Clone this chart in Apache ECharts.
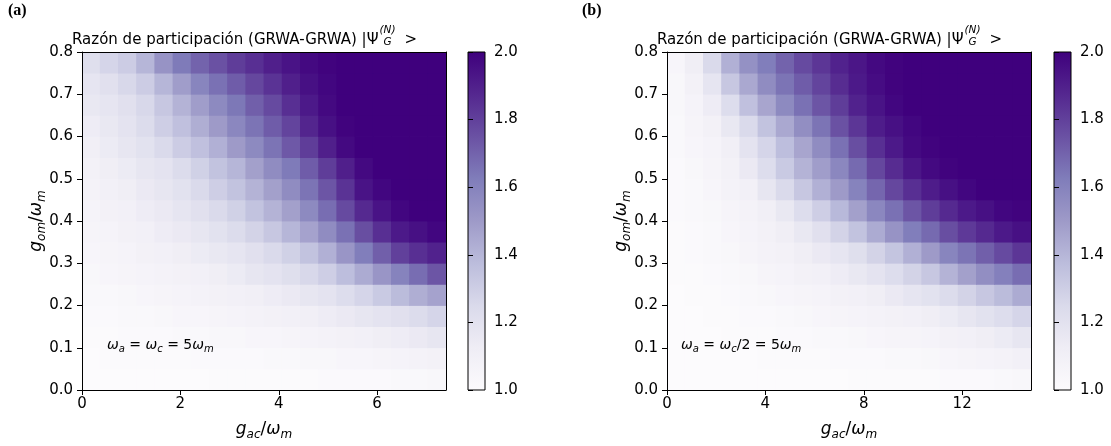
<!DOCTYPE html>
<html>
<head>
<meta charset="utf-8">
<script src="https://cdn.jsdelivr.net/npm/echarts@6/dist/echarts.min.js"></script>
<style>
html,body{margin:0;padding:0;background:#fff;}
#c{width:1111px;height:446px;}
</style>
</head>
<body>
<div id="c"></div>
<script>
// ---------------- data ----------------
const titleText = 'Razón de participación (GRWA-GRWA) |Ψ';
const xMaxA = 7.4;
const xMaxB = 14.8;
const yMax = 0.8;
const xTicksA = [0, 2, 4, 6];
const xTicksB = [0, 4, 8, 12];
const yTicks = [0, 0.1, 0.2, 0.3, 0.4, 0.5, 0.6, 0.7, 0.8];
const cbarTicks = [1.0, 1.2, 1.4, 1.6, 1.8, 2.0];
const cbarMin = 1.0, cbarMax = 2.0;
const purples = ['#fcfbfd','#efedf5','#dadaeb','#bcbddc','#9e9ac8','#807dba','#6a51a3','#54278f','#3f007d'];

// panel (a): rows from bottom (g_om ~ 0.025) to top (~0.775), 20 columns over g_ac in [0, 7.4]
const rowsA = [
  [1.00,1.00,1.00,1.00,1.00,1.00,1.00,1.01,1.01,1.01,1.01,1.01,1.01,1.02,1.02,1.02,1.02,1.03,1.03,1.04],
  [1.00,1.01,1.01,1.01,1.01,1.01,1.02,1.02,1.02,1.02,1.03,1.03,1.04,1.04,1.05,1.05,1.06,1.07,1.08,1.09],
  [1.01,1.01,1.02,1.02,1.02,1.03,1.03,1.04,1.04,1.05,1.05,1.06,1.07,1.08,1.09,1.10,1.12,1.13,1.15,1.17],
  [1.02,1.02,1.03,1.03,1.04,1.05,1.05,1.06,1.07,1.08,1.09,1.10,1.11,1.13,1.15,1.17,1.19,1.21,1.24,1.27],
  [1.03,1.03,1.04,1.05,1.06,1.07,1.08,1.09,1.10,1.11,1.13,1.15,1.17,1.19,1.23,1.27,1.32,1.38,1.43,1.47],
  [1.04,1.05,1.06,1.07,1.08,1.09,1.10,1.12,1.14,1.17,1.19,1.22,1.26,1.30,1.37,1.44,1.52,1.60,1.67,1.74],
  [1.05,1.06,1.07,1.09,1.10,1.12,1.14,1.16,1.18,1.21,1.25,1.29,1.35,1.42,1.52,1.62,1.71,1.80,1.85,1.89],
  [1.06,1.07,1.09,1.10,1.13,1.15,1.17,1.20,1.24,1.28,1.33,1.40,1.47,1.56,1.66,1.76,1.85,1.92,1.95,1.98],
  [1.07,1.09,1.10,1.13,1.15,1.18,1.21,1.25,1.29,1.35,1.41,1.48,1.57,1.67,1.77,1.87,1.94,1.98,2.00,2.00],
  [1.08,1.10,1.12,1.15,1.17,1.20,1.25,1.30,1.35,1.41,1.48,1.56,1.65,1.74,1.84,1.94,1.98,2.00,2.00,2.00],
  [1.09,1.12,1.14,1.17,1.19,1.24,1.29,1.35,1.40,1.48,1.56,1.63,1.72,1.81,1.90,1.97,2.00,2.00,2.00,2.00],
  [1.11,1.14,1.17,1.20,1.25,1.31,1.36,1.42,1.50,1.57,1.65,1.73,1.81,1.90,1.97,2.00,2.00,2.00,2.00,2.00],
  [1.13,1.16,1.19,1.24,1.30,1.36,1.43,1.50,1.58,1.65,1.72,1.79,1.88,1.95,1.99,2.00,2.00,2.00,2.00,2.00],
  [1.16,1.18,1.21,1.26,1.33,1.41,1.49,1.57,1.64,1.71,1.77,1.85,1.92,1.97,2.00,2.00,2.00,2.00,2.00,2.00],
  [1.18,1.21,1.26,1.31,1.40,1.49,1.59,1.66,1.72,1.78,1.84,1.90,1.95,1.98,2.00,2.00,2.00,2.00,2.00,2.00],
  [1.22,1.27,1.31,1.40,1.53,1.63,1.70,1.75,1.81,1.85,1.90,1.94,1.97,1.99,2.00,2.00,2.00,2.00,2.00,2.00]
];

// panel (b): rows from bottom to top, 20 columns over g_ac in [0, 14.8]
const rowsB = [
  [1.00,1.00,1.00,1.00,1.00,1.00,1.00,1.00,1.00,1.00,1.01,1.01,1.01,1.01,1.01,1.02,1.02,1.02,1.03,1.04],
  [1.00,1.00,1.00,1.00,1.00,1.01,1.01,1.01,1.01,1.02,1.02,1.02,1.03,1.03,1.04,1.05,1.06,1.07,1.08,1.10],
  [1.00,1.00,1.00,1.01,1.01,1.01,1.02,1.02,1.03,1.03,1.04,1.05,1.06,1.06,1.07,1.09,1.10,1.12,1.14,1.17],
  [1.00,1.00,1.01,1.01,1.02,1.02,1.03,1.04,1.05,1.06,1.07,1.08,1.09,1.10,1.12,1.14,1.17,1.20,1.23,1.27],
  [1.00,1.01,1.01,1.02,1.03,1.04,1.05,1.06,1.07,1.09,1.10,1.12,1.15,1.18,1.20,1.24,1.28,1.33,1.38,1.44],
  [1.01,1.01,1.02,1.03,1.04,1.06,1.07,1.09,1.10,1.13,1.16,1.19,1.23,1.28,1.33,1.41,1.48,1.55,1.61,1.67],
  [1.01,1.02,1.03,1.04,1.06,1.08,1.09,1.12,1.15,1.18,1.22,1.28,1.34,1.42,1.50,1.59,1.65,1.71,1.77,1.83],
  [1.01,1.02,1.03,1.05,1.07,1.09,1.12,1.16,1.21,1.28,1.35,1.44,1.53,1.62,1.68,1.76,1.82,1.87,1.92,1.95],
  [1.02,1.03,1.04,1.06,1.08,1.11,1.16,1.23,1.30,1.39,1.48,1.58,1.66,1.74,1.81,1.87,1.92,1.95,1.98,1.99],
  [1.02,1.03,1.05,1.08,1.10,1.17,1.25,1.33,1.42,1.50,1.60,1.69,1.78,1.85,1.91,1.95,1.98,2.00,2.00,2.00],
  [1.02,1.04,1.06,1.09,1.15,1.23,1.32,1.41,1.49,1.58,1.68,1.78,1.86,1.93,1.97,1.99,2.00,2.00,2.00,2.00],
  [1.03,1.05,1.07,1.11,1.19,1.27,1.37,1.46,1.56,1.66,1.76,1.85,1.92,1.97,1.99,2.00,2.00,2.00,2.00,2.00],
  [1.03,1.06,1.09,1.16,1.25,1.35,1.45,1.55,1.65,1.75,1.83,1.91,1.95,1.98,2.00,2.00,2.00,2.00,2.00,2.00],
  [1.04,1.07,1.13,1.23,1.36,1.46,1.57,1.66,1.74,1.81,1.89,1.94,1.98,2.00,2.00,2.00,2.00,2.00,2.00,2.00],
  [1.04,1.09,1.18,1.33,1.45,1.56,1.65,1.72,1.79,1.86,1.92,1.96,1.99,2.00,2.00,2.00,2.00,2.00,2.00,2.00],
  [1.05,1.12,1.25,1.42,1.54,1.62,1.70,1.77,1.83,1.89,1.93,1.97,1.99,2.00,2.00,2.00,2.00,2.00,2.00,2.00]
];

// ---------------- build ----------------
function cells(rows, xMax) {
  const nr = rows.length, nc = rows[0].length;
  const dx = xMax / nc, dy = yMax / nr;
  const out = [];
  rows.forEach((row, j) => row.forEach((v, i) => out.push([(i + 0.5) * dx, (j + 0.5) * dy, v])));
  return { data: out, dx: dx, dy: dy };
}
const cA = cells(rowsA, xMaxA);
const cB = cells(rowsB, xMaxB);

function cellRenderer(dx, dy) {
  return function (params, api) {
    const x = api.value(0), y = api.value(1);
    const p0 = api.coord([x - dx / 2, y - dy / 2]);
    const p1 = api.coord([x + dx / 2, y + dy / 2]);
    return {
      type: 'rect',
      shape: { x: p0[0] - 0.4, y: p1[1] - 0.4, width: p1[0] - p0[0] + 0.8, height: p0[1] - p1[1] + 0.8 },
      style: { fill: api.visual('color') }
    };
  };
}

function cbarRenderer(params, api) {
  const p0 = api.coord([0, cbarMin]);
  const p1 = api.coord([1, cbarMax]);
  const stops = purples.map((c, k) => ({ offset: k / (purples.length - 1), color: c }));
  return {
    type: 'rect',
    shape: { x: p0[0], y: p1[1], width: p1[0] - p0[0], height: p0[1] - p1[1] },
    style: { fill: new echarts.graphic.LinearGradient(0, 1, 0, 0, stops), stroke: '#000', lineWidth: 1 }
  };
}

const FONT = 'DejaVu Sans';
const TICKFS = 15;
const tickLabel = { color: '#000', fontSize: TICKFS, fontFamily: FONT };

const plotL = [82, 667], plotT = 52, plotW = 364, plotH = 338;
const cbarL = [468, 1054], cbarW = 17;

const grids = [
  { left: plotL[0], top: plotT, width: plotW, height: plotH },
  { left: cbarL[0], top: plotT, width: cbarW, height: plotH },
  { left: plotL[1], top: plotT, width: plotW, height: plotH },
  { left: cbarL[1], top: plotT, width: cbarW, height: plotH }
];

const xAxes = [], yAxes = [];
function addPlotAxes(g, xMax, xTicks) {
  xAxes.push({ gridIndex: g, type: 'value', min: 0, max: xMax, position: 'bottom', z: 10,
    axisLine: { show: true, onZero: false, lineStyle: { color: '#000', width: 1 } },
    axisTick: { show: true, inside: false, length: 5, customValues: xTicks, lineStyle: { color: '#000', width: 1 } },
    axisLabel: Object.assign({ margin: 7, customValues: xTicks, formatter: v => String(v) }, tickLabel),
    splitLine: { show: false } });
  xAxes.push({ gridIndex: g, type: 'value', min: 0, max: xMax, position: 'top', z: 10,
    axisLine: { show: true, onZero: false, lineStyle: { color: '#000', width: 1 } },
    axisTick: { show: false }, axisLabel: { show: false }, splitLine: { show: false } });
  yAxes.push({ gridIndex: g, type: 'value', min: 0, max: yMax, position: 'left', z: 10,
    axisLine: { show: true, onZero: false, lineStyle: { color: '#000', width: 1 } },
    axisTick: { show: true, inside: false, length: 5, customValues: yTicks, lineStyle: { color: '#000', width: 1 } },
    axisLabel: Object.assign({ margin: 9, customValues: yTicks, formatter: v => v.toFixed(1) }, tickLabel),
    splitLine: { show: false } });
  yAxes.push({ gridIndex: g, type: 'value', min: 0, max: yMax, position: 'right', z: 10,
    axisLine: { show: true, onZero: false, lineStyle: { color: '#000', width: 1 } },
    axisTick: { show: false }, axisLabel: { show: false }, splitLine: { show: false } });
}
function addCbarAxes(g) {
  xAxes.push({ gridIndex: g, type: 'value', min: 0, max: 1, show: false });
  yAxes.push({ gridIndex: g, type: 'value', min: cbarMin, max: cbarMax, position: 'right', z: 10,
    axisLine: { show: false },
    axisTick: { show: true, inside: false, length: 5, customValues: cbarTicks, lineStyle: { color: '#000', width: 1 } },
    axisLabel: Object.assign({ margin: 9, customValues: cbarTicks, formatter: v => v.toFixed(1) }, tickLabel),
    splitLine: { show: false } });
}
addPlotAxes(0, xMaxA, xTicksA);   // x 0,1  y 0,1
addCbarAxes(1);                    // x 2    y 2
addPlotAxes(2, xMaxB, xTicksB);   // x 3,4  y 3,4
addCbarAxes(3);                    // x 5    y 5

const series = [
  { type: 'custom', xAxisIndex: 0, yAxisIndex: 0, data: cA.data, encode: { x: 0, y: 1 },
    renderItem: cellRenderer(cA.dx, cA.dy), clip: true, z: 1, silent: true },
  { type: 'custom', xAxisIndex: 2, yAxisIndex: 2, data: [[0.5, 1.5]], encode: { x: 0, y: 1 },
    renderItem: cbarRenderer, z: 1, silent: true },
  { type: 'custom', xAxisIndex: 3, yAxisIndex: 3, data: cB.data, encode: { x: 0, y: 1 },
    renderItem: cellRenderer(cB.dx, cB.dy), clip: true, z: 1, silent: true },
  { type: 'custom', xAxisIndex: 5, yAxisIndex: 5, data: [[0.5, 1.5]], encode: { x: 0, y: 1 },
    renderItem: cbarRenderer, z: 1, silent: true }
];

// text measurement for title pieces
const mctx = document.createElement('canvas').getContext('2d');
function textW(str, size, style) {
  mctx.font = (style || '') + ' ' + size + 'px "' + FONT + '"';
  return mctx.measureText(str).width;
}

const TFS = 15;
const mathRich = {
  i: { fontFamily: FONT, fontStyle: 'italic', fontSize: 17, lineHeight: 22, verticalAlign: 'middle', color: '#000' },
  s: { fontFamily: FONT, fontStyle: 'italic', fontSize: 12, lineHeight: 10, verticalAlign: 'bottom', color: '#000' },
  n: { fontFamily: FONT, fontSize: 17, lineHeight: 22, verticalAlign: 'middle', color: '#000' }
};
const annRich = {
  i: { fontFamily: FONT, fontStyle: 'italic', fontSize: 14, lineHeight: 18, verticalAlign: 'middle', color: '#000' },
  s: { fontFamily: FONT, fontStyle: 'italic', fontSize: 10, lineHeight: 8, verticalAlign: 'bottom', color: '#000' },
  n: { fontFamily: FONT, fontSize: 14, lineHeight: 18, verticalAlign: 'middle', color: '#000' }
};

const graphics = [];
function panelTexts(k, letter, annotation) {
  const pl = plotL[k];
  graphics.push({ type: 'text', x: [8, 582][k], y: 3, z: 50,
    style: { text: letter, fontFamily: 'Liberation Serif', fontWeight: 'bold', fontSize: 16, fill: '#000', verticalAlign: 'top' } });
  const x0 = pl - 10;
  const wMain = textW(titleText, TFS);
  graphics.push({ type: 'text', x: x0, y: 40, z: 50,
    style: { text: titleText, fontFamily: FONT, fontSize: TFS, fill: '#000', verticalAlign: 'middle' } });
  graphics.push({ type: 'text', x: x0 + wMain + 1, y: 30.5, z: 50,
    style: { text: '(N)', fontFamily: FONT, fontStyle: 'italic', fontSize: 10.5, fill: '#000', verticalAlign: 'middle' } });
  graphics.push({ type: 'text', x: x0 + wMain + 5, y: 42, z: 50,
    style: { text: 'G', fontFamily: FONT, fontStyle: 'italic', fontSize: 10.5, fill: '#000', verticalAlign: 'middle' } });
  const wN = textW('(N)', 10.5, 'italic');
  graphics.push({ type: 'text', x: x0 + wMain + wN + 10, y: 40, z: 50,
    style: { text: '>', fontFamily: FONT, fontSize: TFS, fill: '#000', verticalAlign: 'middle' } });
  graphics.push({ type: 'text', x: pl + plotW / 2, y: 430, z: 50,
    style: { text: '{i|g}{s|ac}{n|/}{i|ω}{s|m}', rich: mathRich, align: 'center', verticalAlign: 'middle' } });
  graphics.push({ type: 'text', x: [37, 622][k], y: 221, rotation: Math.PI / 2, z: 50,
    style: { text: '{i|g}{s|om}{n|/}{i|ω}{s|m}', rich: mathRich, align: 'center', verticalAlign: 'middle' } });
  graphics.push({ type: 'text', x: pl + [25, 14][k], y: 345, z: 50,
    style: { text: annotation, rich: annRich, align: 'left', verticalAlign: 'middle' } });
}
panelTexts(0, '(a)', '{i|ω}{s|a}{n| = }{i|ω}{s|c}{n| = 5}{i|ω}{s|m}');
panelTexts(1, '(b)', '{i|ω}{s|a}{n| = }{i|ω}{s|c}{n|/2 = 5}{i|ω}{s|m}');

const chart = echarts.init(document.getElementById('c'), null, { renderer: 'canvas', width: 1111, height: 446 });
chart.setOption({
  animation: false,
  backgroundColor: '#fff',
  grid: grids,
  xAxis: xAxes,
  yAxis: yAxes,
  visualMap: {
    type: 'continuous', show: false, min: cbarMin, max: cbarMax, dimension: 2,
    seriesIndex: [0, 2], inRange: { color: purples }
  },
  series: series,
  graphic: { elements: graphics }
});
</script>
</body>
</html>
